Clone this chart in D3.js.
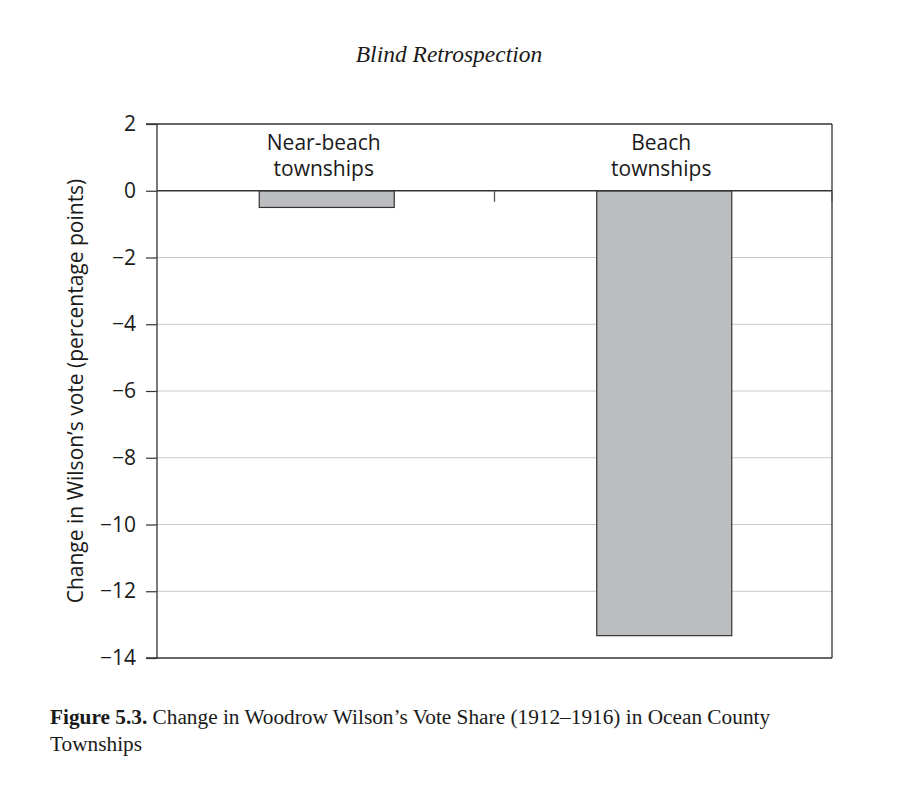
<!DOCTYPE html>
<html>
<head>
<meta charset="utf-8">
<script src="https://cdn.jsdelivr.net/npm/d3@7"></script>
<style>
body { margin: 0; background: #fff; }
svg { display: block; }
</style>
</head>
<body>
<svg id="chart" width="906" height="794"></svg>
<script>
const categories = ["Near-beach townships", "Beach townships"];
const labelLines = [["Near-beach", "townships"], ["Beach", "townships"]];
const values = [-0.5, -13.33];
const yTicks = [2, 0, -2, -4, -6, -8, -10, -12, -14];
const title = "Blind Retrospection";
const yLabel = "Change in Wilson’s vote (percentage points)";
const captionBold = "Figure 5.3.";
const captionRest = " Change in Woodrow Wilson’s Vote Share (1912–1916) in Ocean County";
const captionLine2 = "Townships";

const svg = d3.select("#chart");
const L = 157, R = 832, T = 124, B = 658;
const sans = "'Open Sans', 'Noto Sans', sans-serif";
const serif = "'Liberation Serif', 'DejaVu Serif', serif";

const y = d3.scaleLinear().domain([-14, 2]).range([B, T]);
const x = d3.scaleBand().domain(categories).range([L, R]).paddingInner(0.6).paddingOuter(0.3);

// title
svg.append("text").attr("x", 449).attr("y", 62).attr("text-anchor", "middle")
  .attr("font-family", serif).attr("font-style", "italic").attr("font-size", 23.5)
  .attr("fill", "#1a1a1a").text(title);

// gridlines
svg.append("g").selectAll("line").data(yTicks.filter(d => d < 0 && d > -14)).join("line")
  .attr("x1", L).attr("x2", R).attr("y1", d => y(d)).attr("y2", d => y(d))
  .attr("stroke", "#c8c8c8").attr("stroke-width", 1);

// bars
svg.append("g").selectAll("rect").data(values).join("rect")
  .attr("x", (d, i) => x(categories[i]) + 1)
  .attr("width", x.bandwidth())
  .attr("y", d => y(Math.max(0, d)))
  .attr("height", d => Math.abs(y(d) - y(0)))
  .attr("fill", "#bcbdc0").attr("stroke", "#333").attr("stroke-width", 1.2);

// frame
svg.append("line").attr("x1", L).attr("x2", R).attr("y1", T).attr("y2", T).attr("stroke", "#333").attr("stroke-width", 1.3);
svg.append("line").attr("x1", R).attr("x2", R).attr("y1", T).attr("y2", B).attr("stroke", "#333").attr("stroke-width", 1.3);
svg.append("line").attr("x1", L).attr("x2", R).attr("y1", B).attr("y2", B).attr("stroke", "#333").attr("stroke-width", 1.3);

// zero line and category tick marks
svg.append("line").attr("x1", L).attr("x2", R).attr("y1", y(0)).attr("y2", y(0)).attr("stroke", "#333").attr("stroke-width", 1.3);
const boundaries = [(x(categories[0]) + x.bandwidth() + x(categories[1])) / 2, R];
svg.append("g").selectAll("line").data(boundaries).join("line")
  .attr("x1", d => d).attr("x2", d => d).attr("y1", y(0)).attr("y2", y(0) + 11)
  .attr("stroke", "#555").attr("stroke-width", 1.3);

// y axis
const yAxis = d3.axisLeft(y).tickValues(yTicks).tickSize(11).tickPadding(10)
  .tickFormat(d => d < 0 ? "−" + Math.abs(d) : d);
const gy = svg.append("g").attr("transform", `translate(${L},0)`).call(yAxis);
gy.select(".domain").attr("stroke", "#333").attr("stroke-width", 1.3).attr("d", `M-11,${T}H0V${B}H-11`);
gy.selectAll(".tick line").attr("stroke", "#333").attr("stroke-width", 1.2);
gy.selectAll(".tick text").attr("font-family", sans).attr("font-size", 21).attr("fill", "#1a1a1a");

// y label
svg.append("text").attr("transform", `translate(83,${(T + B) / 2}) rotate(-90)`)
  .attr("text-anchor", "middle").attr("font-family", sans).attr("font-size", 21)
  .attr("fill", "#1a1a1a").text(yLabel);

// category labels
labelLines.forEach((lines, i) => {
  const cx = x(categories[i]) + x.bandwidth() / 2;
  lines.forEach((ln, j) => {
    svg.append("text").attr("x", cx - 2).attr("y", 150 + j * 26).attr("text-anchor", "middle")
      .attr("font-family", sans).attr("font-size", 21).attr("fill", "#1a1a1a").text(ln);
  });
});

// caption
const cap = svg.append("text").attr("x", 50).attr("y", 724).attr("font-family", serif)
  .attr("font-size", 21.3).attr("fill", "#1a1a1a");
cap.append("tspan").attr("font-weight", "bold").text(captionBold);
cap.append("tspan").text(captionRest);
svg.append("text").attr("x", 50).attr("y", 751).attr("font-family", serif)
  .attr("font-size", 21.3).attr("fill", "#1a1a1a").text(captionLine2);
</script>
</body>
</html>
